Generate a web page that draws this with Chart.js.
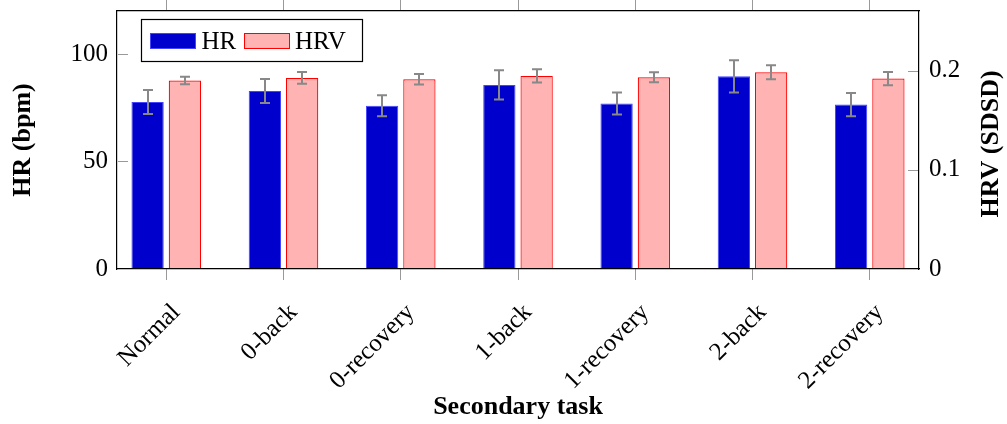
<!DOCTYPE html>
<html>
<head>
<meta charset="utf-8">
<script src="https://cdn.jsdelivr.net/npm/chart.js@4/dist/chart.umd.min.js"></script>
<style>
html,body{margin:0;padding:0;background:#fff;}
canvas{display:block;}
</style>
</head>
<body>
<canvas id="c" width="1007" height="424"></canvas>
<script>
const categories = ['Normal', '0-back', '0-recovery', '1-back', '1-recovery', '2-back', '2-recovery'];
const hrValues  = [77.7, 82.8, 75.9, 85.6, 77.0, 89.6, 76.5];
const hrErrors  = [5.6, 5.6, 4.9, 6.8, 5.1, 7.5, 5.4];
const hrvValues = [0.1900, 0.1926, 0.1912, 0.1946, 0.1933, 0.1983, 0.1919];
const hrvErrors = [0.0037, 0.0060, 0.0052, 0.0066, 0.0050, 0.0070, 0.0066];
const hrTicks  = [0, 50, 100];
const hrvTicks = [0, 0.1, 0.2];

const FONT = "'Liberation Serif', 'Times New Roman', serif";

const toPoints = arr => arr.map((v, i) => ({x: i, y: v}));
const keepCats = s => { s.ticks = categories.map((_, i) => ({value: i})); };
const noPad = s => { s.paddingTop = 0; s.paddingBottom = 0; s.paddingLeft = 0; s.paddingRight = 0; };

const errorBars = {
  id: 'errorBars',
  afterDatasetsDraw(chart) {
    const ctx = chart.ctx;
    ctx.save();
    ctx.strokeStyle = '#888888';
    ctx.lineWidth = 2;
    chart.data.datasets.forEach((ds, di) => {
      const meta = chart.getDatasetMeta(di);
      const ys = chart.scales[ds.yAxisID];
      meta.data.forEach((el, i) => {
        const v = ds.data[i].y, e = ds.errors[i];
        const top = ys.getPixelForValue(v + e), bot = ys.getPixelForValue(v - e);
        const x = Math.round(el.x);
        ctx.beginPath();
        ctx.moveTo(x, top); ctx.lineTo(x, bot);
        ctx.moveTo(x - 5, top); ctx.lineTo(x + 5, top);
        ctx.moveTo(x - 5, bot); ctx.lineTo(x + 5, bot);
        ctx.stroke();
      });
    });
    ctx.restore();
  },
  afterDraw(chart) {
    const ctx = chart.ctx;
    const a = chart.chartArea;
    ctx.save();
    // inward y ticks
    ctx.strokeStyle = '#999999';
    ctx.lineWidth = 1;
    const yl = chart.scales.y, yr = chart.scales.y1;
    yl.ticks.forEach(t => {
      if (t.value === 0) return;
      const p = Math.round(yl.getPixelForValue(t.value)) + 0.5;
      ctx.beginPath(); ctx.moveTo(a.left + 1, p); ctx.lineTo(a.left + 11, p); ctx.stroke();
    });
    yr.ticks.forEach(t => {
      if (t.value === 0) return;
      const p = Math.round(yr.getPixelForValue(t.value)) + 0.5;
      ctx.beginPath(); ctx.moveTo(a.right - 1, p); ctx.lineTo(a.right - 11, p); ctx.stroke();
    });
    // right axis title (reads bottom to top)
    ctx.fillStyle = '#000';
    ctx.font = 'bold 26px ' + FONT;
    ctx.textAlign = 'center';
    ctx.textBaseline = 'middle';
    ctx.translate(991, (a.top + a.bottom) / 2 + 4);
    ctx.rotate(-Math.PI / 2);
    ctx.fillText('HRV (SDSD)', 0, 0);
    ctx.restore();

    // legend
    ctx.save();
    const lx = 141.5, ly = 19.5, lw = 221, lh = 42;
    ctx.fillStyle = '#fff';
    ctx.fillRect(lx, ly, lw, lh);
    ctx.strokeStyle = '#000';
    ctx.lineWidth = 1.2;
    ctx.strokeRect(lx, ly, lw, lh);
    ctx.font = '25px ' + FONT;
    ctx.textAlign = 'left';
    ctx.textBaseline = 'alphabetic';
    const items = [[150, 201.5], [244, 295]];
    chart.data.datasets.forEach((ds, di) => {
      const [sx, tx] = items[di];
      ctx.fillStyle = ds.backgroundColor;
      ctx.fillRect(sx, 33, 46, 16);
      ctx.strokeStyle = ds.borderColor;
      ctx.lineWidth = 1;
      ctx.strokeRect(sx + 0.5, 33.5, 45, 15);
      ctx.fillStyle = '#000';
      ctx.fillText(ds.label, tx, 48.5);
    });
    ctx.restore();
  }
};

new Chart(document.getElementById('c'), {
  type: 'bar',
  data: {
    datasets: [
      { label: 'HR', data: toPoints(hrValues), errors: hrErrors, yAxisID: 'y', xAxisID: 'x',
        backgroundColor: '#0000cc', borderColor: '#4444ff', borderWidth: 1,
        categoryPercentage: 0.636, barPercentage: 0.866 },
      { label: 'HRV', data: toPoints(hrvValues), errors: hrvErrors, yAxisID: 'y1', xAxisID: 'x',
        backgroundColor: '#ffb3b3', borderColor: '#ff0000', borderWidth: 1.2,
        categoryPercentage: 0.636, barPercentage: 0.866 }
    ]
  },
  options: {
    responsive: false,
    devicePixelRatio: 1,
    animation: false,
    layout: { padding: 0 },
    plugins: { legend: { display: false }, tooltip: { enabled: false } },
    scales: {
      x: {
        type: 'linear', position: 'bottom', min: -0.42, max: 6.42, offset: false,
        afterBuildTicks: keepCats,
        afterFit: s => { s.height = 155; noPad(s); },
        ticks: {
          autoSkip: false, maxRotation: 45, minRotation: 45, padding: 18, labelOffset: 10,
          color: '#000', font: { family: FONT, size: 25 },
          callback: v => categories[v] ?? ''
        },
        grid: { drawOnChartArea: false, drawTicks: true, tickLength: 11, color: '#999999', offset: false, z: 1 },
        border: { color: '#000', width: 1.2, z: 1 },
        title: { display: true, text: 'Secondary task', color: '#000', font: { family: FONT, size: 26, weight: 'bold' }, padding: { top: 0, bottom: 1 } }
      },
      xTop: {
        type: 'linear', position: 'top', min: -0.42, max: 6.42, offset: false,
        afterBuildTicks: keepCats,
        afterFit: s => { s.height = 11; noPad(s); },
        ticks: { display: false },
        grid: { drawOnChartArea: false, drawTicks: true, tickLength: 11, color: '#999999', offset: false, z: 1 },
        border: { color: '#000', width: 1.2, z: 1 }
      },
      y: {
        type: 'linear', position: 'left', min: 0, max: 120,
        afterBuildTicks: s => { s.ticks = hrTicks.map(v => ({value: v})); },
        afterFit: s => { s.width = 117; noPad(s); },
        ticks: { padding: 9, color: '#000', font: { family: FONT, size: 25 } },
        grid: { drawOnChartArea: false, drawTicks: false, z: 1 },
        border: { color: '#000', width: 1.2, z: 1 },
        title: { display: true, text: 'HR (bpm)', color: '#000', font: { family: FONT, size: 26, weight: 'bold' }, padding: { top: 8, bottom: 0 } }
      },
      y1: {
        type: 'linear', position: 'right', min: 0, max: 0.26,
        afterBuildTicks: s => { s.ticks = hrvTicks.map(v => ({value: v})); },
        afterFit: s => { s.width = 88; noPad(s); },
        ticks: { padding: 10, color: '#000', font: { family: FONT, size: 25 }, callback: v => String(v) },
        grid: { drawOnChartArea: false, drawTicks: false, z: 1 },
        border: { color: '#000', width: 1.2, z: 1 }
      }
    }
  },
  plugins: [errorBars]
});
</script>
</body>
</html>
